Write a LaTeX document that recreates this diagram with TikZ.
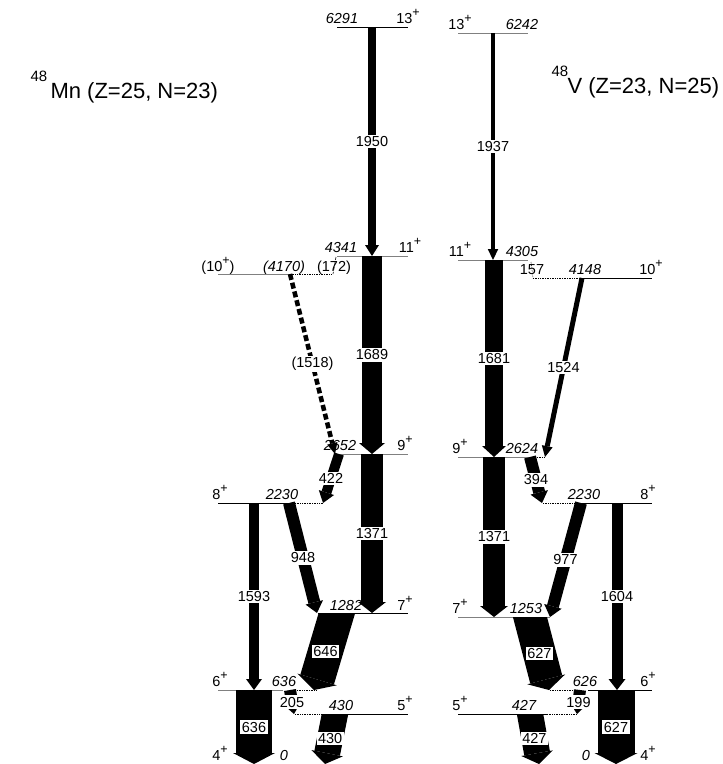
\documentclass[tikz,border=0pt]{standalone}
\usepackage{fontspec}
\setmainfont{Liberation Sans}
\usetikzlibrary{arrows.meta}

% parity superscript
\newcommand\jpos{\raisebox{0.8ex}{\fontsize{12.5}{12}\selectfont +}}

\tikzset{
  lvl/.style={line width=0.9pt},
  lvlg/.style={line width=0.9pt, gray},
  lvld/.style={line width=0.7pt, densely dotted},
  gam/.style={-{Triangle[line width=0pt, width=6pt 1, length=11pt]}},
  glab/.style={fill=white, inner sep=1.5pt, font=\fontsize{14.5}{16}\selectfont},
  elab/.style={anchor=base, font=\fontsize{14.5}{16}\selectfont\itshape},
  jlab/.style={anchor=base, font=\fontsize{14.5}{16}\selectfont},
  ttl/.style={anchor=base west, font=\fontsize{22}{26}\selectfont},
  ttlsup/.style={anchor=base west, font=\fontsize{15}{17}\selectfont},
}

\begin{document}
\begin{tikzpicture}[x=1pt, y=-1pt]
    \useasboundingbox (0,0) rectangle (723,764);

    % ---- titles ----
    \node[ttlsup] (supMn) at (27,81) {48};
    \node[ttl] (ttlMn) at (47,98) {Mn (Z=25, N=23)};
    \node[ttlsup] (supV) at (548,76) {48};
    \node[ttl] (ttlV) at (564,93) {V (Z=23, N=25)};

    % ---- 48Mn levels ----
    \draw[lvl]  (337,27) -- (408,27);
    \draw[lvlg] (337,256) -- (408,256);
    \draw[lvlg] (218,274) -- (290,274);
    \draw[lvld] (290,274) -- (332,274);
    \draw[lvlg] (337,454) -- (408,454);
    \draw[lvl]  (218,503) -- (295,503);
    \draw[lvld] (295,503) -- (323,503);
    \draw[lvl]  (318,613) -- (408,613);
    \draw[lvlg] (218,690) -- (283,690);
    \draw[lvld] (297,690) -- (317,690);
    \draw[lvld] (295,714) -- (327,714);
    \draw[lvl]  (327,714) -- (408,714);

    % ---- 48V levels ----
    \draw[lvlg] (458,33) -- (528,33);
    \draw[lvlg] (458,260) -- (528,260);
    \draw[lvld] (533,278) -- (580,278);
    \draw[lvl]  (580,278) -- (652,278);
    \draw[lvlg] (458,457) -- (530,457);
    \draw[lvld] (530,457) -- (545,457);
    \draw[lvld] (543,503) -- (575,503);
    \draw[lvl]  (575,503) -- (652,503);
    \draw[lvlg] (458,617) -- (550,617);
    \draw[lvld] (550,690) -- (575,690);
    \draw[lvl]  (588,690) -- (652,690);
    \draw[lvl]  (458,714) -- (547,714);
    \draw[lvld] (547,714) -- (577,714);

    % ---- 48Mn level labels ----
    \node[elab] (mE13) at (342,23) {6291};
    \node[jlab] (mJ13) at (408,23) {13\jpos};
    \node[elab] (mE11) at (341,252) {4341};
    \node[jlab] (mJ11) at (410,252) {11\jpos};
    \node[jlab] (mJ10) at (218,271) {(10\jpos)};
    \node[elab] (mE10) at (284,271) {(4170)};
    \node[jlab] (mG172) at (334,271) {(172)};
    \node[elab] (mE9) at (340,450) {2652};
    \node[jlab] (mJ9) at (405,450) {9\jpos};
    \node[jlab] (mJ8) at (220,499) {8\jpos};
    \node[elab] (mE8) at (282,499) {2230};
    \node[elab] (mE7) at (346,610) {1282};
    \node[jlab] (mJ7) at (405,610) {7\jpos};
    \node[jlab] (mJ6) at (220,686) {6\jpos};
    \node[elab] (mE6) at (284,686) {636};
    \node[elab] (mE5) at (341,710) {430};
    \node[jlab] (mJ5) at (405,710) {5\jpos};
    \node[jlab] (mJ4) at (220,760) {4\jpos};
    \node[elab] (mE4) at (284,760) {0};

    % ---- 48V level labels ----
    \node[jlab] (vJ13) at (460,29) {13\jpos};
    \node[elab] (vE13) at (522,29) {6242};
    \node[jlab] (vJ11) at (460,256) {11\jpos};
    \node[elab] (vE11) at (522,256) {4305};
    \node[jlab] (vG157) at (532,274) {157};
    \node[elab] (vE10) at (585,274) {4148};
    \node[jlab] (vJ10) at (651,274) {10\jpos};
    \node[jlab] (vJ9) at (460,453) {9\jpos};
    \node[elab] (vE9) at (522,453) {2624};
    \node[elab] (vE8) at (584,499) {2230};
    \node[jlab] (vJ8) at (648,499) {8\jpos};
    \node[jlab] (vJ7) at (460,613) {7\jpos};
    \node[elab] (vE7) at (526,613) {1253};
    \node[elab] (vE6) at (585,686) {626};
    \node[jlab] (vJ6) at (648,686) {6\jpos};
    \node[jlab] (vJ5) at (460,710) {5\jpos};
    \node[elab] (vE5) at (524,710) {427};
    \node[elab] (vE4) at (586,760) {0};
    \node[jlab] (vJ4) at (648,760) {4\jpos};

    % ---- 48Mn transitions ----
    \coordinate (m1950a) at (372,27);  \coordinate (m1950b) at (372,256);
    \coordinate (m1689a) at (372,256); \coordinate (m1689b) at (372,454);
    \coordinate (m1371a) at (372,454); \coordinate (m1371b) at (372,613);
    \coordinate (m1518a) at (290,274); \coordinate (m1518b) at (335,454);
    \coordinate (m172a)  at (336,257); \coordinate (m172b)  at (333,274);
    \coordinate (m422a)  at (339,454); \coordinate (m422b)  at (323,503);
    \coordinate (m948a)  at (289,503); \coordinate (m948b)  at (317,613);
    \coordinate (m1593a) at (254,503); \coordinate (m1593b) at (254,690);
    \coordinate (m646a)  at (339,606); \coordinate (m646b)  at (314,690);
    \coordinate (m636a)  at (254,690); \coordinate (m636b)  at (254,764);
    \coordinate (m205a)  at (290,690); \coordinate (m205b)  at (294,714);
    \coordinate (m430a)  at (336.4,707); \coordinate (m430b)  at (325,764);

    \draw[gam, line width=8pt]  (m1950a) -- (m1950b) node[glab, midway] (mL1950) {1950};
    \draw[gam, line width=20pt] (m1689a) -- (m1689b) node[glab, midway] (mL1689) {1689};
    \draw[gam, line width=22pt] (m1371a) -- (m1371b) node[glab, midway] (mL1371) {1371};
    \draw[gam, line width=4.5pt, dash pattern=on 6pt off 3pt] (m1518a) -- (m1518b)
        node[glab, midway] (mL1518) {(1518)};
    \draw[line width=0.6pt, densely dashed] (m172a) -- (m172b);
    \draw[gam, line width=10pt] (m422a) -- (m422b) node[glab, midway] (mL422) {422};
    \draw[gam, line width=12pt] (m948a) -- (m948b) node[glab, midway] (mL948) {948};
    \draw[gam, line width=10pt] (m1593a) -- (m1593b) node[glab, midway] (mL1593) {1593};
    \begin{scope}
        \clip (0,613) rectangle (723,764);
        \draw[gam, line width=35pt] (m646a) -- (m646b) node[glab, pos=0.54] (mL646) {646};
    \end{scope}
    \draw[gam, line width=36pt] (m636a) -- (m636b) node[glab, midway] (mL636) {636};
    \draw[gam, line width=12pt] (m205a) -- (m205b) node[glab, midway] (mL205) {205};
    \begin{scope}
        \clip (0,714) rectangle (723,764);
        \draw[gam, line width=26pt] (m430a) -- (m430b) node[glab, pos=0.55] (mL430) {430};
    \end{scope}

    % ---- 48V transitions ----
    \coordinate (v1937a) at (493,33);  \coordinate (v1937b) at (493,260);
    \coordinate (v1681a) at (494,260); \coordinate (v1681b) at (494,457);
    \coordinate (v157a)  at (531,262); \coordinate (v157b)  at (533,278);
    \coordinate (v1524a) at (582,278); \coordinate (v1524b) at (545,457);
    \coordinate (v1371a) at (494,457); \coordinate (v1371b) at (494,617);
    \coordinate (v394a)  at (530,457); \coordinate (v394b)  at (542,503);
    \coordinate (v977a)  at (581,503); \coordinate (v977b)  at (550,617);
    \coordinate (v1604a) at (617,503); \coordinate (v1604b) at (617,690);
    \coordinate (v627a)  at (528.2,610.2); \coordinate (v627b)  at (549,690);
    \coordinate (v199a)  at (580,690); \coordinate (v199b)  at (577,714);
    \coordinate (v627c)  at (616,690); \coordinate (v627d)  at (616,764);
    \coordinate (v427a)  at (528.8,707.1); \coordinate (v427b)  at (539,764);

    \draw[gam, line width=4.5pt] (v1937a) -- (v1937b) node[glab, midway] (vL1937) {1937};
    \draw[gam, line width=18pt]  (v1681a) -- (v1681b) node[glab, midway] (vL1681) {1681};
    \draw[line width=0.6pt, densely dotted] (v157a) -- (v157b);
    \draw[gam, line width=5pt]   (v1524a) -- (v1524b) node[glab, midway] (vL1524) {1524};
    \draw[gam, line width=22pt]  (v1371a) -- (v1371b) node[glab, midway] (vL1371) {1371};
    \draw[gam, line width=12pt]  (v394a) -- (v394b) node[glab, midway] (vL394) {394};
    \draw[gam, line width=12pt]  (v977a) -- (v977b) node[glab, midway] (vL977) {977};
    \draw[gam, line width=11pt]  (v1604a) -- (v1604b) node[glab, midway] (vL1604) {1604};
    \begin{scope}
        \clip (0,617) rectangle (723,764);
        \draw[gam, line width=33pt] (v627a) -- (v627b) node[glab, pos=0.54] (vL627a) {627};
    \end{scope}
    \draw[gam, line width=12pt]  (v199a) -- (v199b) node[glab, midway] (vL199) {199};
    \draw[gam, line width=37pt]  (v627c) -- (v627d) node[glab, midway] (vL627b) {627};
    \begin{scope}
        \clip (0,714) rectangle (723,764);
        \draw[gam, line width=26pt] (v427a) -- (v427b) node[glab, pos=0.55] (vL427) {427};
    \end{scope}
\end{tikzpicture}
\end{document}
